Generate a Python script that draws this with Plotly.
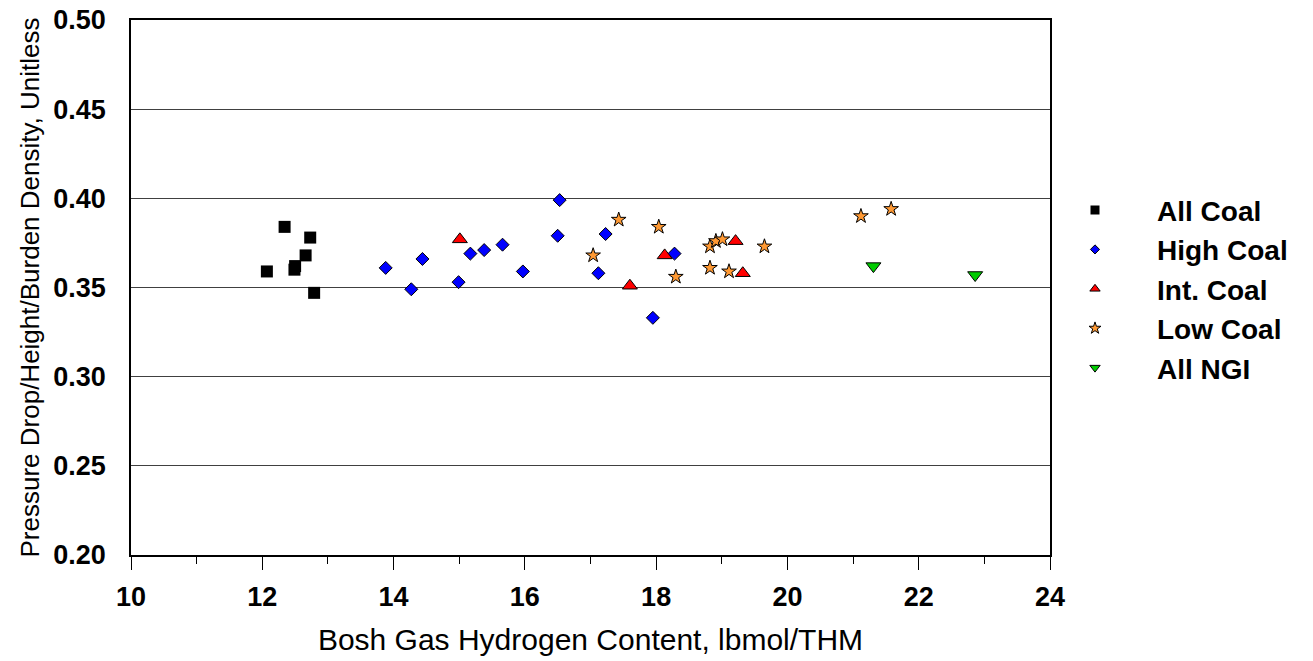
import plotly.graph_objects as go

# Bosh gas hydrogen content (lbmol/THM) and normalised pressure drop, by injection group
all_coal_x = [12.07, 12.34, 12.49, 12.50, 12.66, 12.73, 12.79]
all_coal_y = [0.359, 0.384, 0.360, 0.362, 0.368, 0.378, 0.347]

high_coal_x = [13.88, 14.27, 14.44, 14.99, 15.17, 15.38, 15.66, 15.97,
               16.50, 16.53, 17.12, 17.23, 17.95, 18.28]
high_coal_y = [0.361, 0.349, 0.366, 0.353, 0.369, 0.371, 0.374, 0.359,
               0.379, 0.399, 0.358, 0.380, 0.333, 0.369]

int_coal_x = [15.01, 17.60, 18.13, 19.21, 19.32]
int_coal_y = [0.377, 0.351, 0.368, 0.376, 0.358]

low_coal_x = [17.04, 17.43, 18.04, 18.30, 18.82, 18.82, 18.91, 19.01,
              19.11, 19.65, 21.12, 21.58]
low_coal_y = [0.368, 0.388, 0.384, 0.356, 0.373, 0.361, 0.376, 0.377,
              0.359, 0.373, 0.390, 0.394]

ngi_x = [21.31, 22.86]
ngi_y = [0.362, 0.357]

series = [
    ("All Coal", all_coal_x, all_coal_y, "square", "#000000", 12, 9),
    ("High Coal", high_coal_x, high_coal_y, "diamond", "#0000FF", 10, 7),
    ("Int. Coal", int_coal_x, int_coal_y, "triangle-up", "#FF0000", 13, 9),
    ("Low Coal", low_coal_x, low_coal_y, "star", "#FF9933", 11, 9),
    ("All NGI", ngi_x, ngi_y, "triangle-down", "#00CC00", 13, 9),
]

fig = go.Figure()
for name, xs, ys, sym, col, size, legsize in series:
    outline = dict(color="#000000", width=0 if sym == "square" else 1)
    fig.add_trace(go.Scatter(
        x=xs, y=ys, mode="markers", name=name, showlegend=False,
        marker=dict(symbol=sym, color=col, size=size, line=outline),
    ))
    # legend entry drawn with a smaller symbol
    fig.add_trace(go.Scatter(
        x=[None], y=[None], mode="markers", name=name,
        marker=dict(symbol=sym, color=col, size=legsize, line=outline),
    ))

font_family = "Liberation Sans, Arial, sans-serif"

fig.update_layout(
    width=1313, height=661,
    margin=dict(l=131, r=263, t=20, b=106, autoexpand=False),
    paper_bgcolor="white", plot_bgcolor="white",
    font=dict(family=font_family, color="#000000"),
    legend=dict(
        x=0.9815, y=0.691, xanchor="left", yanchor="top",
        font=dict(size=28, family=font_family, weight="bold"),
        itemwidth=114, tracegroupgap=0, bgcolor="rgba(0,0,0,0)",
    ),
    xaxis=dict(
        range=[10, 24], dtick=2, tick0=10, automargin=False,
        showgrid=False, zeroline=False,
        showline=True, linecolor="#000000", linewidth=1.5, mirror=True,
        ticks="outside", ticklen=13, tickcolor="#000000", tickwidth=1,
        minor=dict(dtick=1, ticks="outside", ticklen=7, tickcolor="#000000"),
        tickfont=dict(size=27, family=font_family, weight="bold"),
        ticklabelstandoff=4,
        title=dict(text="Bosh Gas Hydrogen Content, lbmol/THM",
                   font=dict(size=30, family=font_family), standoff=18),
    ),
    yaxis=dict(
        range=[0.20, 0.50], dtick=0.05, tick0=0.20, tickformat=".2f",
        automargin=False,
        showgrid=True, gridcolor="#404040", gridwidth=1, zeroline=False,
        showline=True, linecolor="#000000", linewidth=1.5, mirror=True,
        ticks="", tickfont=dict(size=27, family=font_family, weight="bold"),
        ticklabelstandoff=18,
        title=dict(text="Pressure Drop/Height/Burden Density, Unitless",
                   font=dict(size=26, family=font_family), standoff=6),
    ),
)

fig.write_html("out.html")
